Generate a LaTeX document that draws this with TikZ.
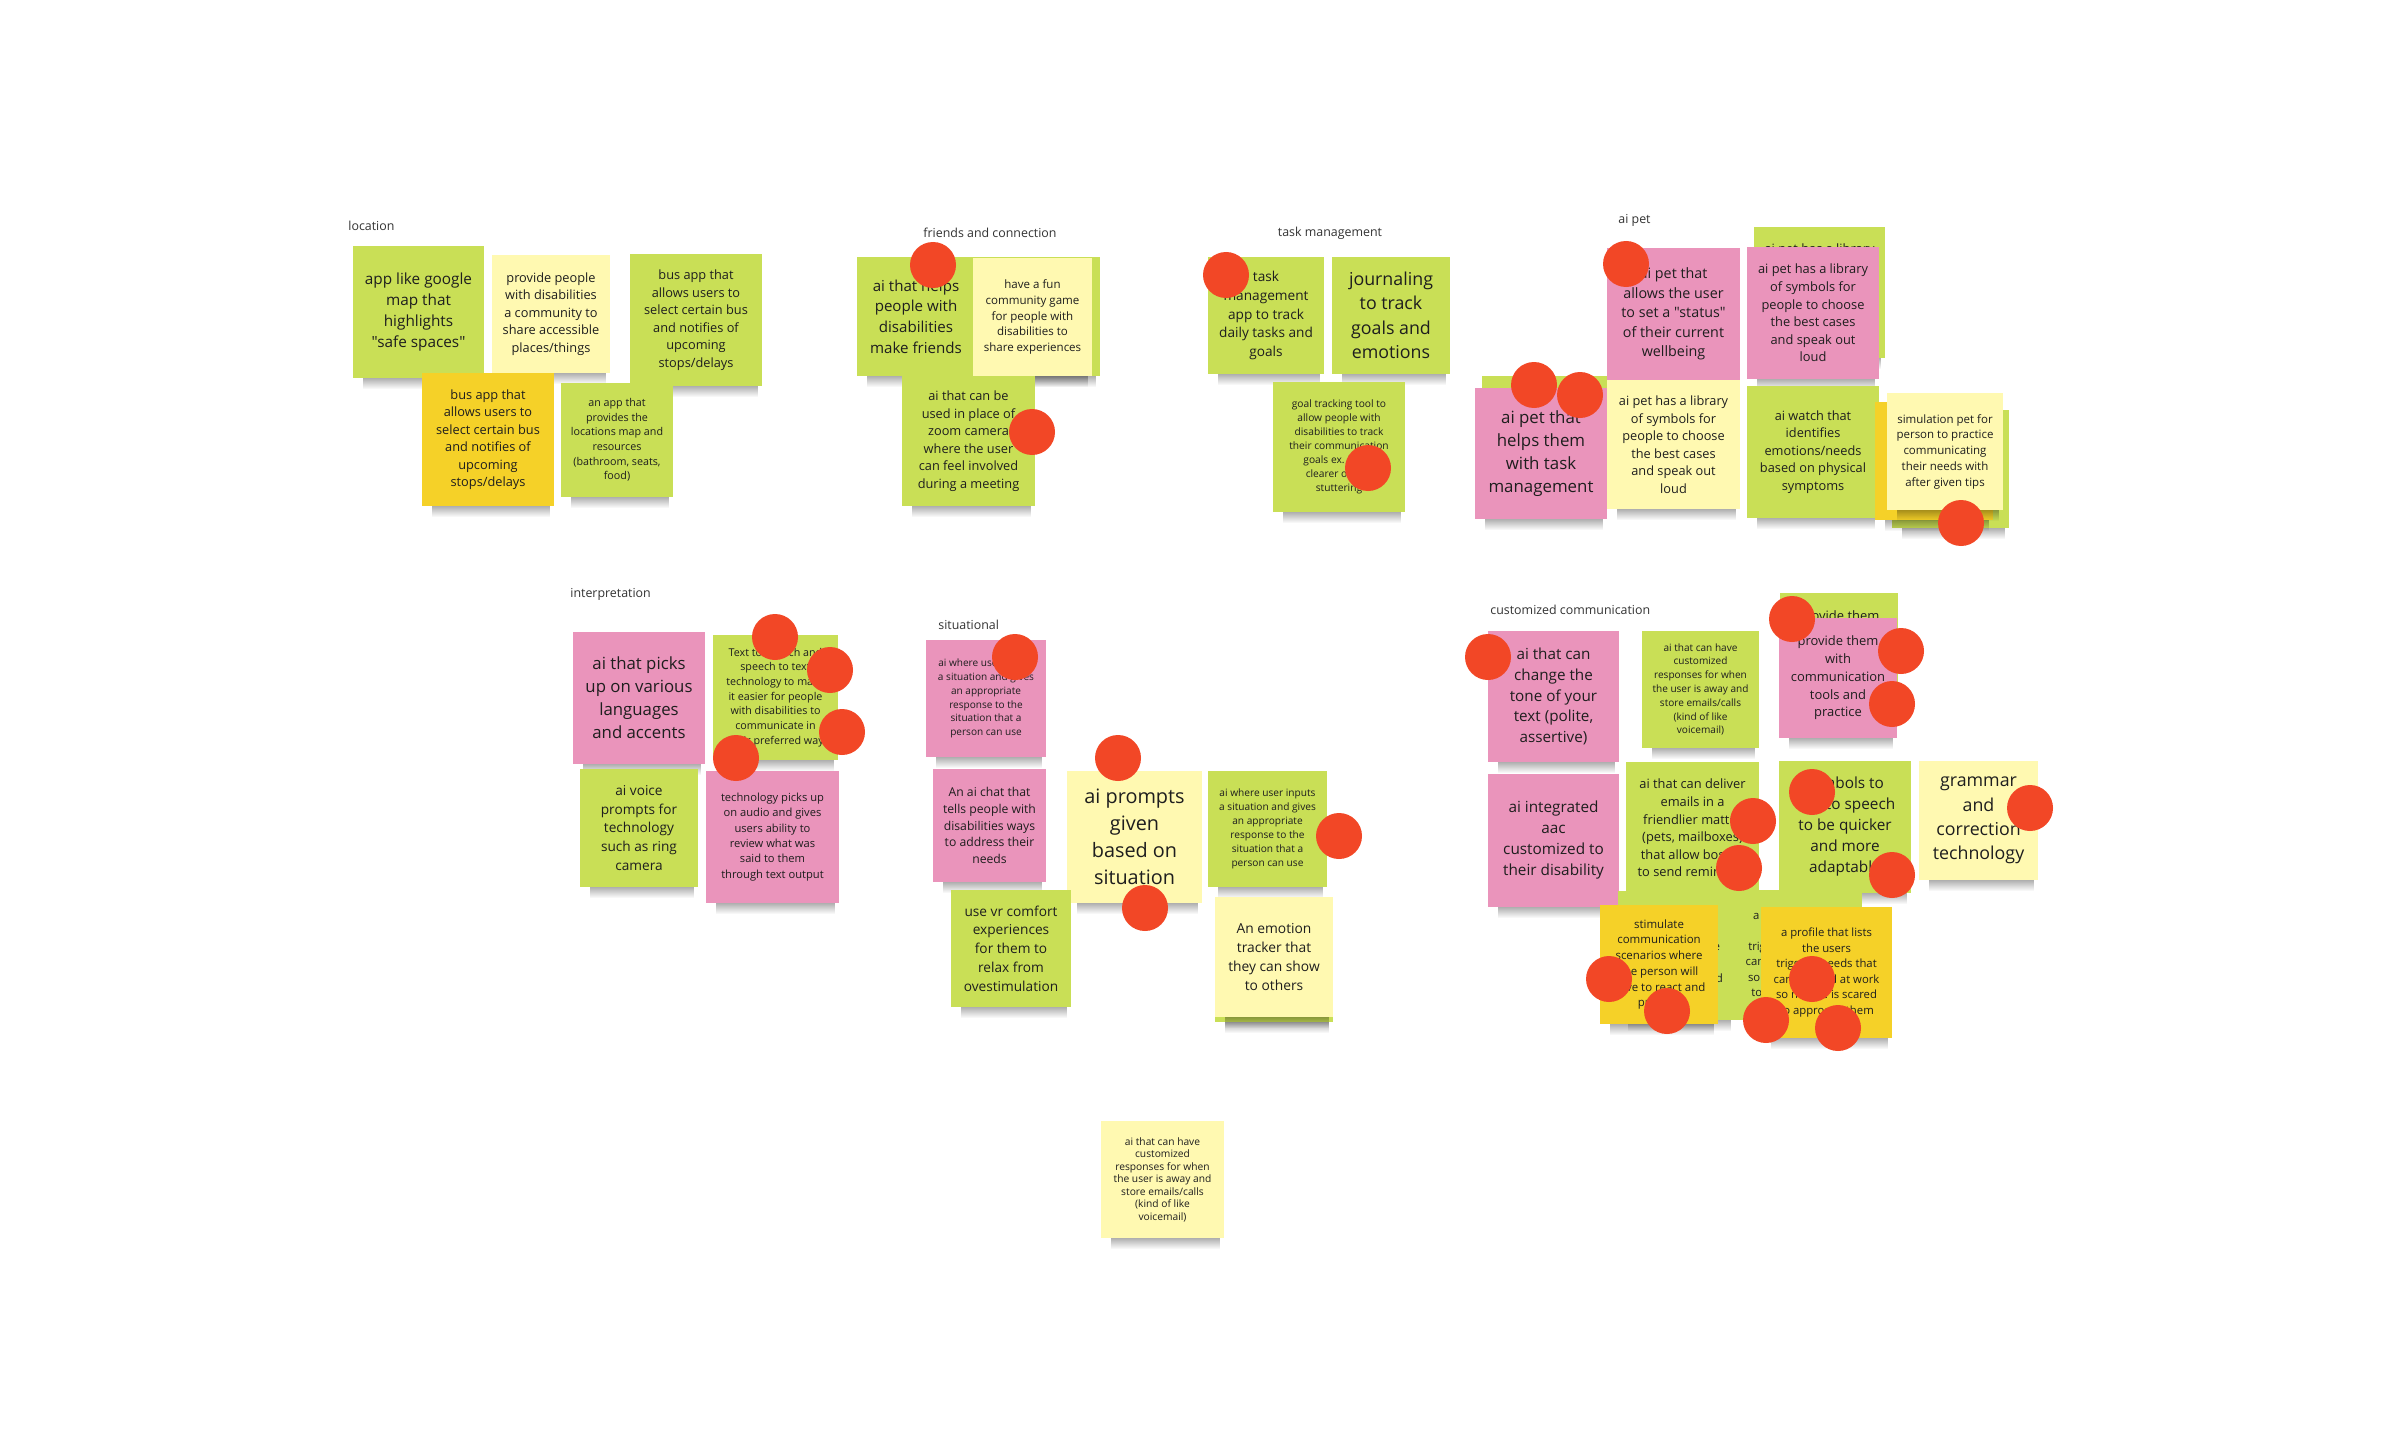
\documentclass[tikz,border=0pt]{standalone}
\usepackage{fontspec}
\setmainfont{Open Sans}[Ligatures=TeXOff]
\usetikzlibrary{fadings}
\definecolor{sgreen}{HTML}{C9DF56}
\definecolor{spale}{HTML}{FFF9B1}
\definecolor{syellow}{HTML}{F5D128}
\definecolor{spink}{HTML}{EA94BB}
\definecolor{dotred}{HTML}{F24726}
\definecolor{inktext}{HTML}{1E1E1E}
\tikzset{
  stickynote/.style={draw=none, inner sep=0pt, align=center, text=inktext},
  grouplabel/.style={inner sep=0pt, text=black!80, font=\fontsize{6.2pt}{7pt}\selectfont},
  vote/.style={circle, fill=dotred, draw=none, inner sep=0pt, minimum size=23pt},
  noteshadow/.style={fill=black, opacity=0.4, path fading=south},
}
\def\stratio{1.37}
% name, x1, y1, x2, y2, colour, line spacing (px), text
\newcommand\sticky[8]{%
  \pgfmathsetmacro\stW{(#4-#2)/2}%
  \pgfmathsetmacro\stH{(#5-#3)/2}%
  \pgfmathsetmacro\stB{#7/2}%
  \pgfmathsetmacro\stF{#7/2/\stratio}%
  \fill[noteshadow] (#2+10,#5-3) rectangle (#4-4,#5+11);
  \node[stickynote, fill=#6, minimum width=\stW pt, minimum height=\stH pt,
        font=\fontsize{\stF pt}{\stB pt}\selectfont] (#1) at ({(#2+#4)/2},{(#3+#5)/2}) {#8};
}
\newcommand\votedot[3]{\node[vote] (#1) at (#2,#3) {};}
\begin{document}
\begin{tikzpicture}[x=0.5pt, y=-0.5pt]
\useasboundingbox (0,0) rectangle (2402,1439);
\fill[white] (0,0) rectangle (2402,1439);

% ---------------- location
\node[grouplabel, anchor=west] (lblloc) at (348,226) {location};
\sticky{l1}{353}{246}{484}{378}{sgreen}{21}{app like google\\map that\\highlights\\"safe spaces"}
\sticky{l2}{492}{255}{610}{373}{spale}{17.5}{provide people\\with disabilities\\a community to\\share accessible\\places/things}
\sticky{l3}{630}{254}{762}{386}{sgreen}{17.5}{bus app that\\allows users to\\select certain bus\\and notifies of\\upcoming\\stops/delays}
\sticky{l4}{422}{373}{554}{506}{syellow}{17.5}{bus app that\\allows users to\\select certain bus\\and notifies of\\upcoming\\stops/delays}
\sticky{l5}{561}{383}{673}{497}{sgreen}{14.7}{an app that\\provides the\\locations map and\\resources\\(bathroom, seats,\\food)}

% ---------------- friends and connection
\node[grouplabel] (lblfri) at (990,233) {friends and connection};
\sticky{f0}{975}{257}{1100}{376}{sgreen}{15.8}{}
\sticky{f1}{857}{257}{975}{376}{sgreen}{20.7}{ai that helps\\people with\\disabilities\\make friends}
\sticky{f2}{973}{258}{1092}{376}{spale}{15.8}{have a fun\\community game\\for people with\\disabilities to\\share experiences}
\sticky{f3}{902}{376}{1035}{506}{sgreen}{17.5}{ai that can be\\used in place of\\zoom camera\\where the user\\can feel involved\\during a meeting}

% ---------------- task management
\node[grouplabel] (lbltask) at (1330,233) {task management};
\sticky{t1}{1208}{257}{1324}{374}{sgreen}{18.7}{task\\management\\app to track\\daily tasks and\\goals}
\sticky{t2}{1332}{257}{1450}{374}{sgreen}{24.4}{journaling\\to track\\goals and\\emotions}
\sticky{t3}{1273}{382}{1405}{512}{sgreen}{14}{goal tracking tool to\\allow people with\\disabilities to track\\their communication\\goals ex. being\\clearer or less\\stuttering}

% ---------------- ai pet
\node[grouplabel, anchor=west] (lblpet) at (1618,220) {ai pet};
\sticky{p2}{1754}{227}{1885}{358}{sgreen}{17.6}{ai pet has a library\\of symbols for\\people to choose\\the best cases\\and speak out\\loud}
\sticky{p1}{1607}{248}{1740}{380}{spink}{19.6}{ai pet that\\allows the user\\to set a "status"\\of their current\\wellbeing}
\sticky{p3}{1747}{247}{1879}{379}{spink}{17.6}{ai pet has a library\\of symbols for\\people to choose\\the best cases\\and speak out\\loud}
\sticky{p4}{1482}{376}{1607}{505}{sgreen}{17}{}
\sticky{p6}{1607}{380}{1740}{509}{spale}{17.5}{ai pet has a library\\of symbols for\\people to choose\\the best cases\\and speak out\\loud}
\sticky{p5}{1475}{388}{1607}{519}{spink}{23.1}{ai pet that\\helps them\\with task\\management}
\sticky{p7}{1747}{386}{1879}{518}{sgreen}{17.5}{ai watch that\\identifies\\emotions/needs\\based on physical\\symptoms}
\sticky{p8a}{1892}{410}{2009}{528}{sgreen}{15.75}{}
\sticky{p8b}{1875}{402}{1993}{520}{syellow}{15.75}{}
\sticky{p8c}{1887}{393}{2003}{510}{spale}{15.75}{simulation pet for\\person to practice\\communicating\\their needs with\\after given tips}

% ---------------- interpretation
\node[grouplabel, anchor=west] (lblint) at (570,594) {interpretation};
\sticky{i1}{573}{632}{705}{764}{spink}{23}{ai that picks\\up on various\\languages\\and accents}
\sticky{i2}{713}{635}{838}{760}{sgreen}{14.7}{Text to speech and\\speech to text\\technology to make\\it easier for people\\with disabilities to\\communicate in\\their preferred way}
\sticky{i3}{580}{769}{698}{887}{sgreen}{18.7}{ai voice\\prompts for\\technology\\such as ring\\camera}
\sticky{i4}{706}{771}{839}{903}{spink}{15.3}{technology picks up\\on audio and gives\\users ability to\\review what was\\said to them\\through text output}

% ---------------- situational
\node[grouplabel, anchor=west] (lblsit) at (938,625) {situational};
\sticky{s1}{926}{640}{1046}{757}{spink}{13.8}{ai where user inputs\\a situation and gives\\an appropriate\\response to the\\situation that a\\person can use}
\sticky{s2}{933}{769}{1046}{882}{spink}{16.7}{An ai chat that\\tells people with\\disabilities ways\\to address their\\needs}
\sticky{s3}{1067}{771}{1202}{903}{spale}{27.2}{ai prompts\\given\\based on\\situation}
\sticky{s4}{1208}{771}{1327}{887}{sgreen}{13.9}{ai where user inputs\\a situation and gives\\an appropriate\\response to the\\situation that a\\person can use}
\sticky{s5}{951}{890}{1071}{1007}{sgreen}{18.75}{use vr comfort\\experiences\\for them to\\relax from\\ovestimulation}
\sticky{s6g}{1215}{905}{1333}{1022}{sgreen}{18.9}{}
\sticky{s6}{1215}{897}{1333}{1017}{spale}{18.9}{An emotion\\tracker that\\they can show\\to others}

% ---------------- customized communication
\node[grouplabel, anchor=west] (lblcus) at (1490,610) {customized communication};
\sticky{c1}{1488}{631}{1619}{762}{spink}{20.9}{ai that can\\change the\\tone of your\\text (polite,\\assertive)}
\sticky{c2}{1642}{631}{1759}{748}{sgreen}{13.8}{ai that can have\\customized\\responses for when\\the user is away and\\store emails/calls\\(kind of like\\voicemail)}
\sticky{c3}{1780}{593}{1898}{712}{sgreen}{17.75}{provide them\\with\\communication\\tools and\\practice}
\sticky{c4}{1779}{618}{1897}{738}{spink}{17.75}{provide them\\with\\communication\\tools and\\practice}
\sticky{c5}{1488}{774}{1619}{907}{spink}{21}{ai integrated\\aac\\customized to\\their disability}
\sticky{c6}{1626}{762}{1759}{894}{sgreen}{17.6}{ai that can deliver\\emails in a\\friendlier matter\\(pets, mailboxes)\\that allow bosses\\to send reminders}
\sticky{c7}{1779}{761}{1911}{893}{sgreen}{21}{symbols to\\text to speech\\to be quicker\\and more\\adaptable}
\sticky{c8}{1919}{761}{2038}{880}{spale}{24.4}{grammar\\and\\correction\\technology}
\sticky{c9a}{1618}{891}{1735}{1020}{sgreen}{15.7}{stimulate\\communication\\scenarios where\\the person will\\have to react and\\practice}
\sticky{c9b}{1735}{890}{1862}{1020}{sgreen}{15.5}{a profile that lists\\the users\\triggers/needs that\\can be used at work\\so no one is scared\\to approach them}
\sticky{c10}{1600}{905}{1718}{1024}{syellow}{15.7}{stimulate\\communication\\scenarios where\\the person will\\have to react and\\practice}
\sticky{c11}{1761}{907}{1892}{1038}{syellow}{15.5}{a profile that lists\\the users\\triggers/needs that\\can be used at work\\so no one is scared\\to approach them}

% ---------------- lone note
\def\stratio{1.22}
\sticky{b1}{1101}{1121}{1224}{1238}{spale}{12.5}{ai that can have\\customized\\responses for when\\the user is away and\\store emails/calls\\(kind of like\\voicemail)}

% ---------------- votes
\votedot{v1}{933}{265}
\votedot{v2}{1032}{432}
\votedot{v3}{1226}{275}
\votedot{v4}{1368}{468}
\votedot{v5}{1626}{264}
\votedot{v6}{1534}{385}
\votedot{v7}{1580}{395}
\votedot{v8}{1961}{523}
\votedot{v9}{775}{637}
\votedot{v10}{830}{670}
\votedot{v11}{842}{732}
\votedot{v12}{736}{758}
\votedot{v13}{1015}{657}
\votedot{v14}{1118}{758}
\votedot{v15}{1145}{908}
\votedot{v16}{1339}{836}
\votedot{v17}{1488}{657}
\votedot{v18}{1792}{619}
\votedot{v19}{1901}{651}
\votedot{v20}{1892}{704}
\votedot{v21}{1753}{821}
\votedot{v22}{1739}{868}
\votedot{v23}{1812}{792}
\votedot{v24}{1892}{875}
\votedot{v25}{2030}{808}
\votedot{v26}{1609}{979}
\votedot{v27}{1667}{1011}
\votedot{v28}{1812}{979}
\votedot{v29}{1766}{1020}
\votedot{v30}{1838}{1028}
\end{tikzpicture}
\end{document}
